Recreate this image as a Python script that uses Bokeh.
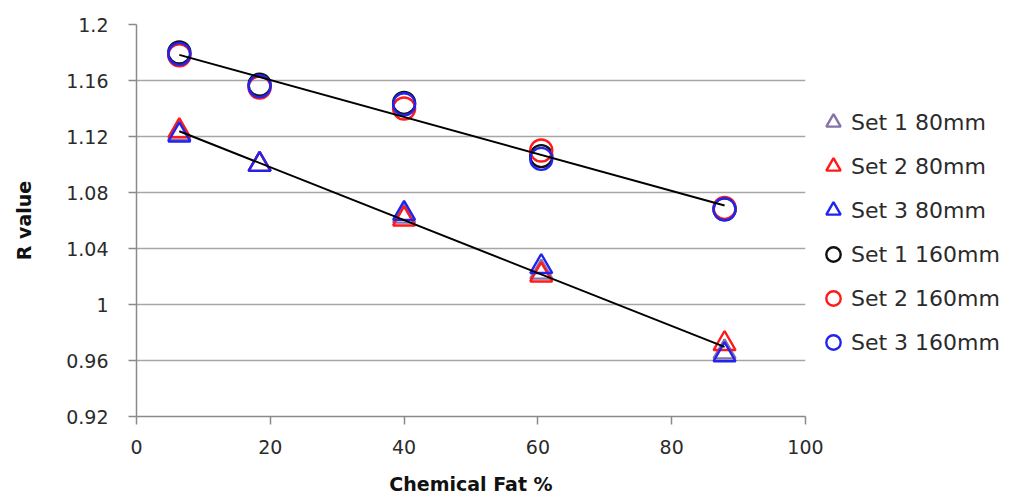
import numpy as np
from bokeh.plotting import figure
from bokeh.models import Range1d, FixedTicker, Legend, LegendItem
from bokeh.embed import file_html
from bokeh.resources import INLINE

# ---- data ----
fat = [6.4, 18.4, 40.0, 60.5, 87.9]

set1_80 = [1.122, 1.100, 1.063, 1.023, 0.966]
set2_80 = [1.124, 1.100, 1.061, 1.021, 0.972]
set3_80 = [1.121, 1.100, 1.065, 1.027, 0.964]

set1_160 = [1.180, 1.157, 1.144, 1.106, 1.068]
set2_160 = [1.178, 1.155, 1.140, 1.110, 1.069]
set3_160 = [1.179, 1.156, 1.143, 1.104, 1.068]

series_names = ["Set 1 80mm", "Set 2 80mm", "Set 3 80mm",
                "Set 1 160mm", "Set 2 160mm", "Set 3 160mm"]
series_values = [set1_80, set2_80, set3_80, set1_160, set2_160, set3_160]
series_markers = ["triangle", "triangle", "triangle", "circle", "circle", "circle"]
series_colors = ["#8673a8", "#ff1a1a", "#2323f0", "#111111", "#ff1a1a", "#2323f0"]

x_ticks = [0, 20, 40, 60, 80, 100]
y_ticks = [0.92, 0.96, 1.0, 1.04, 1.08, 1.12, 1.16, 1.2]
y_tick_labels = ["0.92", "0.96", "1", "1.04", "1.08", "1.12", "1.16", "1.2"]

FONT = "DejaVu Sans"
TXT = "#2b2b2b"
AX = "#8a8a8a"

p = figure(frame_width=669, frame_height=392, output_backend="svg", toolbar_location=None,
           x_range=Range1d(0, 100), y_range=Range1d(0.92, 1.2),
           min_border_left=136, min_border_right=0,
           min_border_top=24, min_border_bottom=79)
p.outline_line_color = None
p.background_fill_color = "white"
p.border_fill_color = "white"

p.xgrid.visible = False
p.ygrid.grid_line_color = "#a6a6a6"
p.ygrid.grid_line_width = 1.5

p.xaxis.ticker = FixedTicker(ticks=x_ticks)
p.yaxis.ticker = FixedTicker(ticks=y_ticks)
p.yaxis.major_label_overrides = {t: l for t, l in zip(y_ticks, y_tick_labels)}

for ax in (p.xaxis[0], p.yaxis[0]):
    ax.axis_line_color = AX
    ax.axis_line_width = 1.5
    ax.major_tick_line_color = AX
    ax.major_tick_line_width = 1.5
    ax.major_tick_in = 0
    ax.major_tick_out = 8
    ax.minor_tick_line_color = None
    ax.major_label_text_font = FONT
    ax.major_label_text_font_size = "19px"
    ax.major_label_text_color = TXT
    ax.axis_label_text_font = FONT
    ax.axis_label_text_font_style = "bold"
    ax.axis_label_text_font_size = "19px"
    ax.axis_label_text_color = "#111111"

p.xaxis.major_label_standoff = 15
p.yaxis.major_label_standoff = 20
p.xaxis.axis_label = "Chemical Fat %"
p.yaxis.axis_label = "R value"
p.xaxis.axis_label_standoff = 16
p.yaxis.axis_label_standoff = 28

# markers
renderers = []
for vals, mk, col in zip(series_values, series_markers, series_colors):
    r = p.scatter(x=fat, y=vals, marker=mk, size=22, fill_color=None,
                  line_color=col, line_width=2.4)
    renderers.append(r)

# linear trendlines through each group
def trend(groups):
    xs = np.concatenate([fat] * len(groups))
    ys = np.concatenate(groups)
    m, b = np.polyfit(xs, ys, 1)
    xx = np.array([min(fat), max(fat)])
    return xx, m * xx + b

tx, ty = trend([set1_80, set2_80, set3_80])
p.line(tx, ty, line_color="black", line_width=2)
tx, ty = trend([set1_160, set2_160, set3_160])
p.line(tx, ty, line_color="black", line_width=2)

items = [LegendItem(label=n, renderers=[r]) for n, r in zip(series_names, renderers)]

legend = Legend(items=items, location=(10, 56), margin=0, padding=10,
                glyph_width=36, glyph_height=36, label_standoff=0, spacing=8,
                label_text_font=FONT, label_text_font_size="22px",
                label_text_color=TXT, border_line_color=None,
                background_fill_alpha=0)
p.add_layout(legend, "right")

open("out.html", "w").write(file_html(p, INLINE))
